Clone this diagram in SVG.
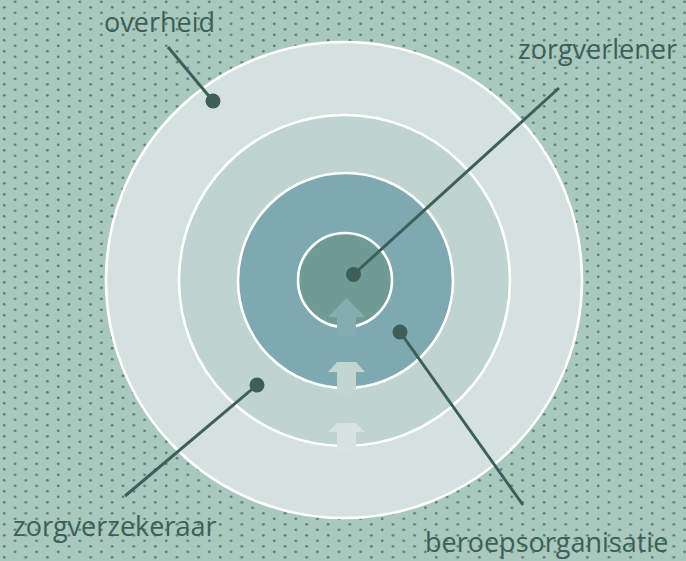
<svg xmlns="http://www.w3.org/2000/svg" width="686" height="561" viewBox="0 0 686 561">
<defs>
<pattern id="dots" x="0" y="0" width="21.6" height="11" patternUnits="userSpaceOnUse">
<circle cx="15" cy="1.8" r="1.4" fill="#5a8279"/>
<circle cx="4.2" cy="7.3" r="1.4" fill="#5a8279"/>
</pattern>
<style>
.ring{stroke:#ffffff;stroke-width:2.6}
.lbl{font-family:"Open Sans","Noto Sans",sans-serif;font-size:27px;fill:#3e5f58}
.lead{stroke:#3e5f58;stroke-width:3;fill:none}
.dot{fill:#3e5f58}
</style>
</defs>
<rect width="686" height="561" fill="#a9c8be"/>
<rect width="686" height="561" fill="url(#dots)"/>
<g id="ring-overheid"><circle class="ring" cx="344" cy="280" r="238" fill="#d4e1df"/></g>
<g id="ring-zorgverzekeraar"><circle class="ring" cx="344.5" cy="280.5" r="165.5" fill="#bfd3cf"/></g>
<g id="ring-beroepsorganisatie"><circle class="ring" cx="345.5" cy="280.5" r="107.5" fill="#7ea9b0"/></g>
<g id="ring-zorgverlener"><circle class="ring" cx="345" cy="280" r="47" fill="#6f9b94"/></g>
<g id="arrows">
<polygon points="346.5,298 365,317 356,317 356,336 337,336 337,317 328,317" fill="#84adb2"/>
<polygon points="337,362 356,362 365,372 356,372 356,395 337,395 337,372 328,372" fill="#c2d5d1"/>
<polygon points="337,423 356,423 365,432 356,432 356,452 337,452 337,432 328,432" fill="#d6e3e1"/>
</g>
<g id="connectors">
<line class="lead" x1="168" y1="47" x2="213" y2="101"/>
<line class="lead" x1="559" y1="88" x2="353.5" y2="274.5"/>
<line class="lead" x1="125" y1="496" x2="257" y2="385"/>
<line class="lead" x1="523" y1="505" x2="400" y2="332"/>
</g>
<g id="label-overheid">
<circle class="dot" cx="213" cy="101" r="7.5"/>
<text class="lbl" x="104" y="32">overheid</text>
</g>
<g id="label-zorgverlener">
<circle class="dot" cx="353.5" cy="274.5" r="7.5"/>
<text class="lbl" x="518" y="59">zorgverlener</text>
</g>
<g id="label-zorgverzekeraar">
<circle class="dot" cx="257" cy="385" r="7.5"/>
<text class="lbl" x="13" y="536">zorgverzekeraar</text>
</g>
<g id="label-beroepsorganisatie">
<circle class="dot" cx="400" cy="332" r="7.5"/>
<text class="lbl" x="425" y="552">beroepsorganisatie</text>
</g>
</svg>
